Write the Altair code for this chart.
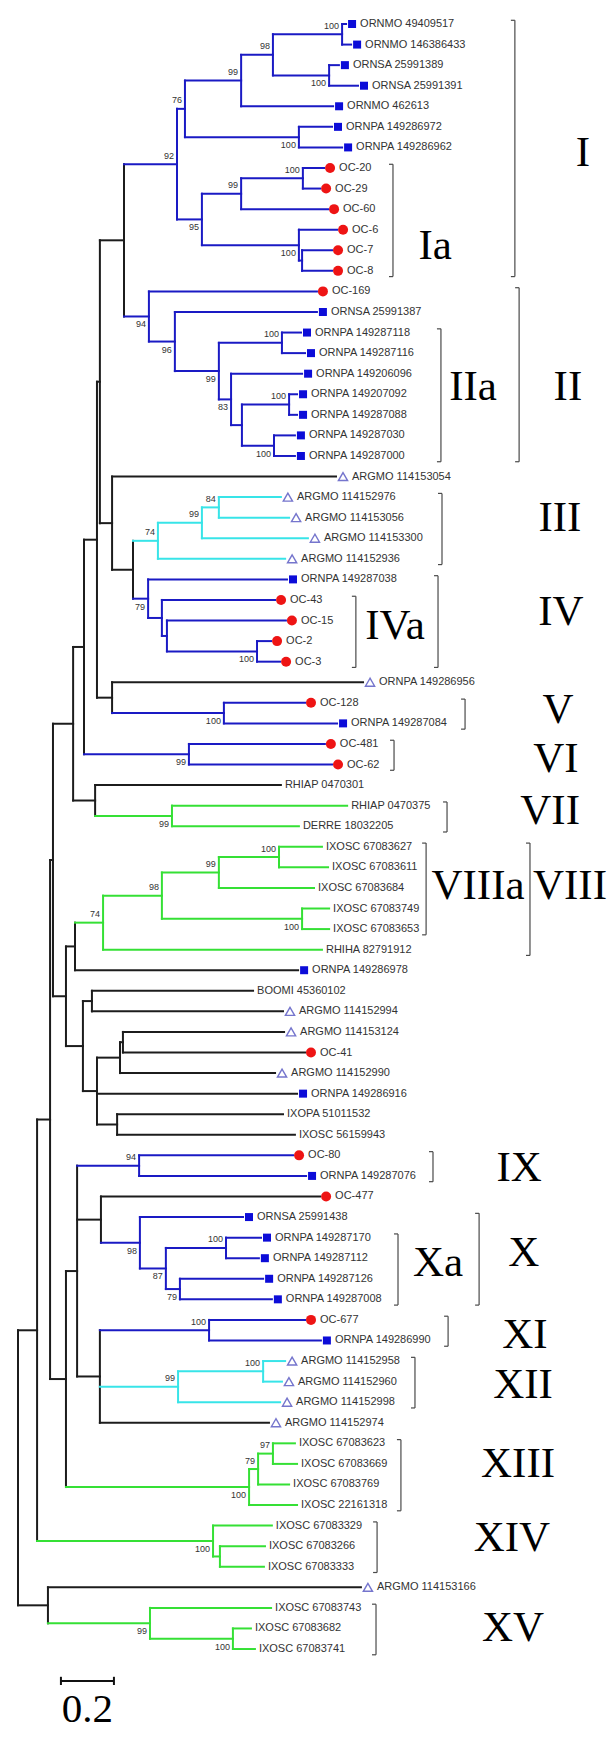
import altair as alt
import pandas as pd

# ---------------------------------------------------------------
# Tree topology. Internal nodes: (id, parent, depth from root in
# substitutions/site, bootstrap, colour group, bootstrap label side)
# ---------------------------------------------------------------
NODES = [
    ("root", None, 0.000, None, "k", None),
    ("L", "root", 0.072, None, "k", None),
    ("XVg", "root", 0.113, None, "k", None),
    ("J", "L", 0.121, None, "k", None),
    ("XIVn", "L", 0.736, 100, "g", "b"),
    ("I", "J", 0.132, None, "k", None),
    ("K", "J", 0.181, None, "k", None),
    ("H", "I", 0.208, None, "k", None),
    ("N", "I", 0.181, None, "k", None),
    ("G", "H", 0.249, None, "k", None),
    ("VIIg", "H", 0.291, None, "k", None),
    ("E", "G", 0.298, None, "k", None),
    ("VIn", "G", 0.645, 99, "b", "b"),
    ("B", "E", 0.309, None, "k", None),
    ("F", "E", 0.355, None, "k", None),
    ("A", "B", 0.400, None, "k", None),
    ("C", "B", 0.355, None, "k", None),
    ("n92", "A", 0.600, 92, "b", "a"),
    ("n94", "A", 0.494, 94, "b", "b"),
    ("n76", "n92", 0.630, 76, "b", "a"),
    ("n95", "n92", 0.694, 95, "b", "b"),
    ("n99a", "n76", 0.842, 99, "b", "a"),
    ("n56", "n76", 1.060, 100, "b", "b"),
    ("n98", "n99a", 0.962, 98, "b", "a"),
    ("n01", "n98", 1.223, 100, "b", "a"),
    ("n23", "n98", 1.174, 100, "b", "b"),
    ("n99b", "n95", 0.842, 99, "b", "a"),
    ("n100c", "n95", 1.060, 100, "b", "b"),
    ("n78", "n99b", 1.075, 100, "b", "a"),
    ("n1112", "n100c", 1.072, None, "b", None),
    ("n96", "n94", 0.592, 96, "b", "b"),
    ("n99c", "n96", 0.758, 99, "b", "b"),
    ("n1516", "n99c", 0.996, 100, "b", "a"),
    ("n83", "n99c", 0.804, 83, "b", "b"),
    ("n242", "n83", 0.845, None, "b", None),
    ("n1819", "n242", 1.023, 100, "b", "a"),
    ("n2021", "n242", 0.966, 100, "b", "b"),
    ("D2", "C", 0.434, None, "k", None),
    ("n74", "D2", 0.528, 74, "c", "a"),
    ("n99d", "n74", 0.694, 99, "c", "a"),
    ("n84", "n99d", 0.758, 84, "c", "a"),
    ("n79", "D2", 0.491, 79, "b", "b"),
    ("n162", "n79", 0.543, None, "b", None),
    ("n167", "n162", 0.562, None, "b", None),
    ("n3031", "n167", 0.902, 100, "b", "b"),
    ("Vn", "F", 0.777, 100, "b", "b"),
    ("VIIn", "VIIg", 0.581, 99, "g", "b"),
    ("O", "N", 0.215, None, "k", None),
    ("P", "N", 0.245, None, "k", None),
    ("Q", "O", 0.321, 74, "g", "a"),
    ("R", "Q", 0.543, 98, "g", "a"),
    ("S", "R", 0.758, 99, "g", "a"),
    ("U", "S", 0.985, 100, "g", "a"),
    ("T", "R", 1.072, 100, "g", "b"),
    ("W", "P", 0.279, None, "k", None),
    ("V", "P", 0.298, None, "k", None),
    ("X", "V", 0.385, None, "k", None),
    ("Z", "X", 0.396, None, "k", None),
    ("Y", "V", 0.374, None, "k", None),
    ("AA", "K", 0.223, None, "k", None),
    ("XIIIn", "K", 0.872, 100, "g", "b"),
    ("IXn", "AA", 0.457, 94, "b", "a"),
    ("n57", "AA", 0.313, None, "k", None),
    ("n68", "AA", 0.309, None, "k", None),
    ("Xn", "n57", 0.460, 98, "b", "b"),
    ("Xan", "Xn", 0.558, 87, "b", "b"),
    ("n5960", "Xan", 0.785, 100, "b", "a"),
    ("n6162", "Xan", 0.611, 79, "b", "b"),
    ("XIn", "n68", 0.721, 100, "b", "a"),
    ("XIIn", "n68", 0.604, 99, "c", "a"),
    ("n6566", "XIIn", 0.925, 100, "c", "a"),
    ("n79b", "XIIIn", 0.906, 79, "g", "a"),
    ("n97", "n79b", 0.962, 97, "g", "a"),
    ("n7475", "XIVn", 0.762, None, "g", None),
    ("XVn", "XVg", 0.498, 99, "g", "b"),
    ("n7879", "XVn", 0.811, 100, "g", "b"),
]

# Leaves, top to bottom: (label, parent, depth, marker kind, colour group)
LEAVES = [
    ("ORNMO 49409517", "n01", 1.238, "s", "b"),
    ("ORNMO 146386433", "n01", 1.257, "s", "b"),
    ("ORNSA 25991389", "n23", 1.211, "s", "b"),
    ("ORNSA 25991391", "n23", 1.283, "s", "b"),
    ("ORNMO 462613", "n99a", 1.189, "s", "b"),
    ("ORNPA 149286972", "n56", 1.185, "s", "b"),
    ("ORNPA 149286962", "n56", 1.223, "s", "b"),
    ("OC-20", "n78", 1.155, "c", "b"),
    ("OC-29", "n78", 1.140, "c", "b"),
    ("OC-60", "n99b", 1.170, "c", "b"),
    ("OC-6", "n100c", 1.204, "c", "b"),
    ("OC-7", "n1112", 1.185, "c", "b"),
    ("OC-8", "n1112", 1.185, "c", "b"),
    ("OC-169", "n94", 1.128, "c", "b"),
    ("ORNSA 25991387", "n96", 1.128, "s", "b"),
    ("ORNPA 149287118", "n1516", 1.068, "s", "b"),
    ("ORNPA 149287116", "n1516", 1.083, "s", "b"),
    ("ORNPA 149206096", "n83", 1.072, "s", "b"),
    ("ORNPA 149207092", "n1819", 1.053, "s", "b"),
    ("ORNPA 149287088", "n1819", 1.053, "s", "b"),
    ("ORNPA 149287030", "n2021", 1.045, "s", "b"),
    ("ORNPA 149287000", "n2021", 1.045, "s", "b"),
    ("ARGMO 114153054", "C", 1.200, "t", "k"),
    ("ARGMO 114152976", "n84", 0.992, "t", "c"),
    ("ARGMO 114153056", "n84", 1.023, "t", "c"),
    ("ARGMO 114153300", "n99d", 1.094, "t", "c"),
    ("ARGMO 114152936", "n74", 1.008, "t", "c"),
    ("ORNPA 149287038", "n79", 1.015, "s", "b"),
    ("OC-43", "n162", 0.970, "c", "b"),
    ("OC-15", "n167", 1.011, "c", "b"),
    ("OC-2", "n3031", 0.955, "c", "b"),
    ("OC-3", "n3031", 0.989, "c", "b"),
    ("ORNPA 149286956", "F", 1.302, "t", "k"),
    ("OC-128", "Vn", 1.083, "c", "b"),
    ("ORNPA 149287084", "Vn", 1.204, "s", "b"),
    ("OC-481", "VIn", 1.158, "c", "b"),
    ("OC-62", "VIn", 1.185, "c", "b"),
    ("RHIAP 0470301", "VIIg", 0.992, "", "k"),
    ("RHIAP 0470375", "VIIn", 1.242, "", "g"),
    ("DERRE 18032205", "VIIn", 1.060, "", "g"),
    ("IXOSC 67083627", "U", 1.147, "", "g"),
    ("IXOSC 67083611", "U", 1.170, "", "g"),
    ("IXOSC 67083684", "S", 1.117, "", "g"),
    ("IXOSC 67083749", "T", 1.174, "", "g"),
    ("IXOSC 67083653", "T", 1.174, "", "g"),
    ("RHIHA 82791912", "Q", 1.147, "", "g"),
    ("ORNPA 149286978", "O", 1.057, "s", "k"),
    ("BOOMI 45360102", "W", 0.887, "", "k"),
    ("ARGMO 114152994", "W", 1.000, "t", "k"),
    ("ARGMO 114153124", "Z", 1.004, "t", "k"),
    ("OC-41", "Z", 1.083, "c", "k"),
    ("ARGMO 114152990", "X", 0.970, "t", "k"),
    ("ORNPA 149286916", "V", 1.053, "s", "k"),
    ("IXOPA 51011532", "Y", 1.000, "", "k"),
    ("IXOSC 56159943", "Y", 1.045, "", "k"),
    ("OC-80", "IXn", 1.038, "c", "b"),
    ("ORNPA 149287076", "IXn", 1.087, "s", "b"),
    ("OC-477", "n57", 1.140, "c", "k"),
    ("ORNSA 25991438", "Xn", 0.849, "s", "b"),
    ("ORNPA 149287170", "n5960", 0.917, "s", "b"),
    ("ORNPA 149287112", "n5960", 0.909, "s", "b"),
    ("ORNPA 149287126", "n6162", 0.925, "s", "b"),
    ("ORNPA 149287008", "n6162", 0.958, "s", "b"),
    ("OC-677", "XIn", 1.083, "c", "b"),
    ("ORNPA 149286990", "XIn", 1.143, "s", "b"),
    ("ARGMO 114152958", "n6566", 1.008, "t", "c"),
    ("ARGMO 114152960", "n6566", 0.996, "t", "c"),
    ("ARGMO 114152998", "XIIn", 0.989, "t", "c"),
    ("ARGMO 114152974", "n68", 0.947, "t", "k"),
    ("IXOSC 67083623", "n97", 1.045, "", "g"),
    ("IXOSC 67083669", "n97", 1.053, "", "g"),
    ("IXOSC 67083769", "n79b", 1.023, "", "g"),
    ("IXOSC 22161318", "XIIIn", 1.053, "", "g"),
    ("IXOSC 67083329", "XIVn", 0.958, "", "g"),
    ("IXOSC 67083266", "n7475", 0.932, "", "g"),
    ("IXOSC 67083333", "n7475", 0.928, "", "g"),
    ("ARGMO 114153166", "XVg", 1.294, "t", "k"),
    ("IXOSC 67083743", "XVn", 0.955, "", "g"),
    ("IXOSC 67083682", "n7879", 0.879, "", "g"),
    ("IXOSC 67083741", "n7879", 0.894, "", "g"),
]

# Clades: name, first leaf row, last leaf row
CLADE_NAMES = ["I", "Ia", "II", "IIa", "III", "IV", "IVa", "V", "VI", "VII",
               "VIIIa", "VIII", "IX", "X", "Xa", "XI", "XII", "XIII", "XIV", "XV"]
CLADE_FIRST = [0, 7, 13, 15, 23, 27, 28, 33, 35, 38, 40, 40, 55, 58, 59, 63, 65, 69, 73, 77]
CLADE_LAST = [12, 12, 21, 21, 26, 31, 31, 34, 36, 39, 44, 45, 56, 62, 62, 64, 67, 72, 75, 79]

# annotation layout (in scale units): bracket position, label centre x, label row
BRACKET_X = [1.875, 1.415, 1.891, 1.596, 1.600, 1.585, 1.275, 1.687, 1.419, 1.619,
             1.540, 1.932, 1.566, 1.740, 1.434, 1.623, 1.498, 1.445, 1.355, 1.351]
LABEL_X = [2.132, 1.574, 2.075, 1.717, 2.045, 2.049, 1.423, 2.038, 2.030, 2.008,
           1.736, 2.083, 1.891, 1.909, 1.585, 1.913, 1.906, 1.887, 1.864, 1.868]
LABEL_ROW = [6.27, 10.79, 17.65, 17.65, 24.02, 28.59, 29.27, 33.35, 35.73, 38.26,
             41.91, 41.91, 55.62, 59.75, 60.23, 63.73, 66.17, 70.01, 73.60, 77.98]

SCALE_BAR_LEN = 0.2
SCALE_BAR_LABEL = "0.2"

# ---------------------------------------------------------------
# Layout computation
# ---------------------------------------------------------------
W, H = 600, 1724
PX_PER_UNIT = 265.0
ROW_PX = 20.57
X_DOMAIN = [-10 / PX_PER_UNIT, (W - 10) / PX_PER_UNIT]
Y_DOMAIN = [-16 / ROW_PX, (H - 16) / ROW_PX]

depth, parent, colour, boot, side = {}, {}, {}, {}, {}
children = {}
for nid, par, d, b, col, sd in NODES:
    depth[nid] = d
    parent[nid] = par
    colour[nid] = col
    boot[nid] = b
    side[nid] = sd
    children.setdefault(nid, [])
    if par is not None:
        children.setdefault(par, []).append(nid)

row = {}
for i, (lab, par, d, kind, col) in enumerate(LEAVES):
    key = "leaf%d" % i
    depth[key] = d
    parent[key] = par
    colour[key] = col
    row[key] = float(i)
    children.setdefault(par, []).append(key)


def get_row(n):
    if n in row:
        return row[n]
    rs = [get_row(c) for c in children[n]]
    row[n] = (min(rs) + max(rs)) / 2.0
    return row[n]


get_row("root")

segs = []
for n in depth:
    if parent[n] is not None:
        segs.append({"x": depth[parent[n]], "x2": depth[n], "y": row[n], "y2": row[n], "c": colour[n]})
    kids = children.get(n, [])
    if kids:
        rs = [row[c] for c in kids]
        segs.append({"x": depth[n], "x2": depth[n], "y": min(rs), "y2": max(rs), "c": colour[n]})
seg_df = pd.DataFrame(segs)

leaf_df = pd.DataFrame([
    {"label": lab, "x": d, "y": float(i), "kind": kind}
    for i, (lab, par, d, kind, col) in enumerate(LEAVES)
])

boot_df = pd.DataFrame([
    {"x": depth[n], "y": row[n], "b": str(boot[n]), "side": side[n]}
    for n, *_ in NODES if boot[n] is not None
])

xs = alt.Scale(domain=X_DOMAIN, nice=False, zero=False)
ys = alt.Scale(domain=Y_DOMAIN, nice=False, zero=False, reverse=True)
cs = alt.Scale(domain=["k", "b", "c", "g"], range=["#1c1c1c", "#1a1ac4", "#38e4e8", "#35e035"])

X = lambda f="x": alt.X(f + ":Q", scale=xs, axis=None)
Y = lambda f="y": alt.Y(f + ":Q", scale=ys, axis=None)

branches = alt.Chart(seg_df).mark_rule(strokeWidth=2, strokeCap="square").encode(
    x=X(), x2="x2:Q", y=Y(), y2="y2:Q",
    color=alt.Color("c:N", scale=cs, legend=None),
)

layers = [branches]

marker_style = {
    "s": dict(shape="square", filled=True, size=64, color="#0c0cd8", opacity=1, xOffset=6),
    "c": dict(shape="circle", filled=True, size=100, color="#ee1414", opacity=1, xOffset=6),
    "t": dict(shape="triangle-up", filled=False, size=85, color="#3b3bb8", strokeWidth=1.4, xOffset=7),
}
text_dx = {"s": 14, "c": 15, "t": 16, "": 4}

for kind, st in marker_style.items():
    layers.append(
        alt.Chart(leaf_df).transform_filter(alt.datum.kind == kind)
        .mark_point(**st).encode(x=X(), y=Y())
    )
for kind, dx in text_dx.items():
    layers.append(
        alt.Chart(leaf_df).transform_filter(alt.datum.kind == kind)
        .mark_text(align="left", baseline="middle", dx=dx, font="Liberation Sans",
                   fontSize=11, color="#333333")
        .encode(x=X(), y=Y(), text="label:N")
    )

for sd, dy in (("a", -8.5), ("b", 8.0)):
    layers.append(
        alt.Chart(boot_df).transform_filter(alt.datum.side == sd)
        .mark_text(align="right", baseline="middle", dx=-3, dy=dy, font="Liberation Sans",
                   fontSize=9, color="#333333")
        .encode(x=X(), y=Y(), text="b:N")
    )

# clade brackets
TICK = 4 / PX_PER_UNIT
br = []
for i, name in enumerate(CLADE_NAMES):
    top = CLADE_FIRST[i] - 0.18
    bot = CLADE_LAST[i] + 0.28
    bx = BRACKET_X[i]
    br.append({"x": bx, "x2": bx, "y": top, "y2": bot})
    br.append({"x": bx - TICK, "x2": bx, "y": top, "y2": top})
    br.append({"x": bx - TICK, "x2": bx, "y": bot, "y2": bot})
br_df = pd.DataFrame(br)
layers.append(
    alt.Chart(br_df).mark_rule(strokeWidth=1.2, color="#4a4a4a").encode(
        x=X(), x2="x2:Q", y=Y(), y2="y2:Q")
)

lab_df = pd.DataFrame({"name": CLADE_NAMES, "x": LABEL_X, "y": LABEL_ROW})
layers.append(
    alt.Chart(lab_df).mark_text(align="center", baseline="middle", font="Liberation Serif",
                                fontSize=43, color="#000000")
    .encode(x=X(), y=Y(), text="name:N")
)

# scale bar
BAR_X0 = 0.162
BAR_ROW = 80.55
sb = pd.DataFrame([
    {"x": BAR_X0, "x2": BAR_X0 + SCALE_BAR_LEN, "y": BAR_ROW, "y2": BAR_ROW},
    {"x": BAR_X0, "x2": BAR_X0, "y": BAR_ROW - 0.2, "y2": BAR_ROW + 0.2},
    {"x": BAR_X0 + SCALE_BAR_LEN, "x2": BAR_X0 + SCALE_BAR_LEN, "y": BAR_ROW - 0.2, "y2": BAR_ROW + 0.2},
])
layers.append(
    alt.Chart(sb).mark_rule(strokeWidth=2, color="#111111").encode(
        x=X(), x2="x2:Q", y=Y(), y2="y2:Q")
)
sb_lab = pd.DataFrame({"x": [BAR_X0 + SCALE_BAR_LEN / 2], "y": [81.95], "t": [SCALE_BAR_LABEL]})
layers.append(
    alt.Chart(sb_lab).mark_text(align="center", baseline="middle", font="Liberation Serif",
                                fontSize=41, color="#000000")
    .encode(x=X(), y=Y(), text="t:N")
)

chart = alt.layer(*layers).properties(
    width=W, height=H, padding=0,
    autosize=alt.AutoSizeParams(type="none"),
).configure_view(strokeWidth=0)

chart.save("out.html", embed_options={"renderer": "svg", "actions": False})
